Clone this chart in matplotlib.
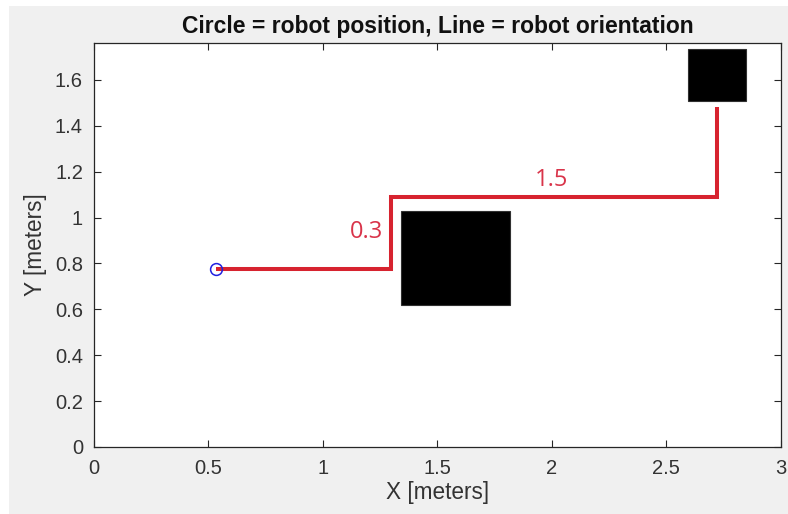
import matplotlib.pyplot as plt
from matplotlib.patches import Rectangle

# robot path (x, y) in meters
path_x = [0.533, 1.296, 1.296, 2.723, 2.723]
path_y = [0.777, 0.777, 1.091, 1.091, 1.483]
robot_x = [0.533]
robot_y = [0.777]

# obstacles: x, y, width, height
obstacles = [(1.34, 0.62, 0.477, 0.409),
             (2.595, 1.508, 0.255, 0.227)]

# segment labels
seg_labels = ["0.3", "1.5"]
seg_label_x = [1.263, 1.997]
seg_label_y = [0.935, 1.164]
seg_label_ha = ["right", "center"]

plt.rcParams['font.family'] = ['Liberation Sans', 'DejaVu Sans']

fig = plt.figure(figsize=(7.88, 5.14), dpi=100)
fig.patch.set_facecolor('white')
fig.patches.append(Rectangle((9 / 788, 0), 1, 1 - 6 / 514, transform=fig.transFigure,
                             facecolor='#f0f0f0', edgecolor='none', zorder=-10))

ax = fig.add_axes([94 / 788, 1 - 447 / 514, (780.7 - 94) / 788, (447 - 42.7) / 514])
ax.set_facecolor('white')

for (x, y, w, h) in obstacles:
    ax.add_patch(Rectangle((x, y), w, h, facecolor='black', edgecolor='#303030', lw=0.8))

ax.plot(path_x, path_y, color='#d7232f', lw=2.9, solid_capstyle='butt', solid_joinstyle='miter')
ax.plot(robot_x, robot_y, 'o', mfc='none', mec='#2020e0', ms=8.5, mew=1.1)

for t, x, y, ha in zip(seg_labels, seg_label_x, seg_label_y, seg_label_ha):
    ax.text(x, y, t, color='#d9344a', fontsize=17, ha=ha, va='center',
            family=['Open Sans', 'DejaVu Sans'])

ax.set_xlim(0, 3)
ax.set_ylim(0, 1.762)
ax.set_xticks([0, 0.5, 1, 1.5, 2, 2.5, 3])
ax.set_xticklabels(['0', '0.5', '1', '1.5', '2', '2.5', '3'])
ax.set_yticks([0, 0.2, 0.4, 0.6, 0.8, 1, 1.2, 1.4, 1.6])
ax.set_yticklabels(['0', '0.2', '0.4', '0.6', '0.8', '1', '1.2', '1.4', '1.6'])
ax.tick_params(direction='in', top=True, right=True, length=5, width=0.8,
               colors='#262626', labelsize=14.5, labelcolor='#333333')
ax.tick_params(axis='x', pad=9)
ax.tick_params(axis='y', pad=8)
for s in ax.spines.values():
    s.set_color('#262626')
    s.set_linewidth(0.9)

ax.set_xlabel('X [meters]', fontsize=16.3, color='#333333', labelpad=2)
ax.set_ylabel('Y [meters]', fontsize=16.3, color='#333333', labelpad=6)
ax.set_title('Circle = robot position, Line = robot orientation', fontsize=16.5,
             fontweight='bold', color='#111111', pad=7)

fig.savefig('out.png', dpi=100, facecolor=fig.get_facecolor())
